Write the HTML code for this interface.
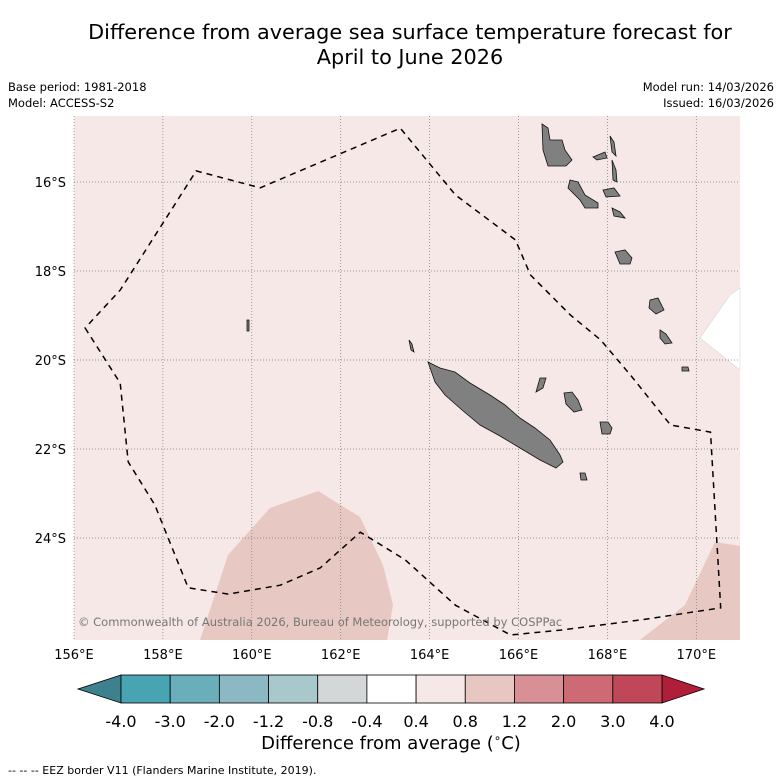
<!DOCTYPE html>
<html><head><meta charset="utf-8"><style>
body{margin:0;background:#fff;font-family:"Liberation Sans","DejaVu Sans",sans-serif}
svg{display:block}
</style></head><body>
<svg width="781" height="781" viewBox="0 0 781 781" xmlns="http://www.w3.org/2000/svg">
<text x="410" y="39" text-anchor="middle" font-size="20.8" font-family="DejaVu Sans, sans-serif">Difference from average sea surface temperature forecast for</text>
<text x="410" y="64" text-anchor="middle" font-size="20.8" font-family="DejaVu Sans, sans-serif">April to June 2026</text>
<text x="8" y="91" font-size="11.5" font-family="DejaVu Sans, sans-serif">Base period: 1981-2018</text>
<text x="8" y="107" font-size="11.5" font-family="DejaVu Sans, sans-serif">Model: ACCESS-S2</text>
<text x="774" y="91" text-anchor="end" font-size="11.5" font-family="DejaVu Sans, sans-serif">Model run: 14/03/2026</text>
<text x="774" y="107" text-anchor="end" font-size="11.5" font-family="DejaVu Sans, sans-serif">Issued: 16/03/2026</text>
<g id="map">
<rect x="74" y="116" width="666" height="524" fill="#f5e8e6"/>
<polygon points="200,640 228,555 270,508 318,491 360,517 383,565 393,605 387,640" fill="#e8c8c2"/>
<polygon points="640,640 685,605 715,542 740,546 740,640" fill="#e8c8c2"/>
<polygon points="740,288 730,295 700,338 740,370" fill="#fff" stroke="#ddd" stroke-width="0.7"/>
<g id="grid"></g>
<g fill="#808080" stroke="#111" stroke-width="0.8">
<polygon points="428,362 440,368 455,372 470,383 490,395 505,405 520,418 535,428 550,440 560,455 563,462 556,468 540,460 520,448 500,436 480,425 462,410 445,395 435,382"/>
<polygon points="542,124 548,128 550,140 562,140 565,150 572,160 566,166 548,166 543,150"/>
<polygon points="593,157 605,152 607,158 597,160"/>
<polygon points="610,136 614,142 616,156 612,152"/>
<polygon points="612,160 616,170 617,182 613,180"/>
<polygon points="570,180 578,182 585,195 598,203 598,208 585,208 580,200 568,188"/>
<polygon points="603,190 614,188 620,196 606,197"/>
<polygon points="612,208 620,212 625,218 614,216"/>
<polygon points="615,252 625,250 632,258 630,264 620,264"/>
<polygon points="650,300 658,298 664,310 656,314 649,308"/>
<polygon points="660,330 666,334 672,343 665,344 660,338"/>
<polygon points="682,367 688,367 689,371 682,371"/>
<polygon points="564,393 572,392 578,400 582,410 574,412 566,404"/>
<polygon points="600,422 608,422 612,428 610,434 602,434"/>
<polygon points="540,378 546,378 543,388 536,392"/>
<polygon points="580,473 585,473 587,480 581,480"/>
<polygon points="247,320 249,320 249,331 247,331"/>
<polygon points="409,340 412,344 414,352 411,350"/>
</g>
<path id="eez" fill="none" stroke="#000" stroke-width="1.5" stroke-dasharray="6,5"/>
<text x="78" y="626" font-size="11.5" fill="#777" font-family="DejaVu Sans, sans-serif">© Commonwealth of Australia 2026, Bureau of Meteorology, supported by COSPPac</text>
</g>
<g id="axes"></g>
<g id="cbar"></g>
<text x="391" y="749" text-anchor="middle" font-size="18" font-family="DejaVu Sans, sans-serif">Difference from average (<tspan font-size="12" dy="-7">∘</tspan><tspan dy="7">C)</tspan></text>
<text x="8" y="774" font-size="11" font-family="DejaVu Sans, sans-serif">--  --  -- EEZ border V11 (Flanders Marine Institute, 2019).</text>
</svg>
<script>
const lonTicks=[156,158,160,162,164,166,168,170];
const latTicks=[16,18,20,22,24];
const eezLon=[156.25,157.04,157.22,157.82,158.57,159.47,160.64,161.54,162.44,163.45,164.58,165.82,166.95,168.75,170.55,170.32,169.42,168.52,167.85,167.17,166.27,165.93,164.58,163.34,160.19,158.75,157.04];
const eezLat=[19.28,20.52,22.29,23.26,25.12,25.26,25.06,24.67,23.87,24.49,25.51,26.18,26.07,25.84,25.57,21.62,21.46,20.34,19.55,18.99,18.09,17.30,16.29,14.79,16.13,15.75,18.43];
const cbarColors=["#48a3b2","#6aaebb","#8bb8c3","#a9c8cb","#d4d7d8","#ffffff","#f5e8e6","#e8c7c2","#d88f96","#cd6a74","#c04757"];
const cbarLabels=["-4.0","-3.0","-2.0","-1.2","-0.8","-0.4","0.4","0.8","1.2","2.0","3.0","4.0"];
(function(){
const NS="http://www.w3.org/2000/svg";
const X=lon=>74+(lon-156)*44.45;
const Y=lat=>182+(lat-16)*44.5;
function mk(t,a,p){const e=document.createElementNS(NS,t);for(const k in a)e.setAttribute(k,a[k]);p.appendChild(e);return e;}
const grid=document.getElementById('grid'),axes=document.getElementById('axes');
lonTicks.forEach(l=>{const e=mk('line',{x1:X(l),x2:X(l),y1:116,y2:640,stroke:'#777','stroke-width':0.7,'stroke-dasharray':'1,2'},grid);


const t=mk('text',{x:X(l),y:659,'text-anchor':'middle','font-size':13,'font-family':'DejaVu Sans, sans-serif'},axes);t.textContent=l+'°E';

});
latTicks.forEach(l=>{const e=mk('line',{x1:74,x2:740,y1:Y(l),y2:Y(l),stroke:'#777','stroke-width':0.7,'stroke-dasharray':'1,2'},grid);


const t=mk('text',{x:66,y:Y(l)+5,'text-anchor':'end','font-size':13,'font-family':'DejaVu Sans, sans-serif'},axes);t.textContent=l+'°S';

});
let d='';eezLon.forEach((l,i)=>{d+=(i?'L':'M')+X(l).toFixed(1)+','+Y(eezLat[i]).toFixed(1);});d+='Z';
document.getElementById('eez').setAttribute('d',d);
const cb=document.getElementById('cbar');const x0=121,x1=662,yT=675,yB=703,w=(x1-x0)/cbarColors.length;
const lt=mk('polygon',{points:`${x0},${yT} 78,${(yT+yB)/2} ${x0},${yB}`,fill:'#3c818d',stroke:'#000','stroke-width':0.8},cb);


const rt=mk('polygon',{points:`${x1},${yT} 704,${(yT+yB)/2} ${x1},${yB}`,fill:'#b01f3a',stroke:'#000','stroke-width':0.8},cb);


cbarColors.forEach((c,i)=>{const r=mk('rect',{x:x0+i*w,y:yT,width:w,height:yB-yT,fill:c,stroke:'#000','stroke-width':0.8},cb);

});
cbarLabels.forEach((s,i)=>{const t=mk('text',{x:x0+i*w,y:727,'text-anchor':'middle','font-size':16,'font-family':'DejaVu Sans, sans-serif'},cb);t.textContent=s;

});
})();
</script>
</body></html>
